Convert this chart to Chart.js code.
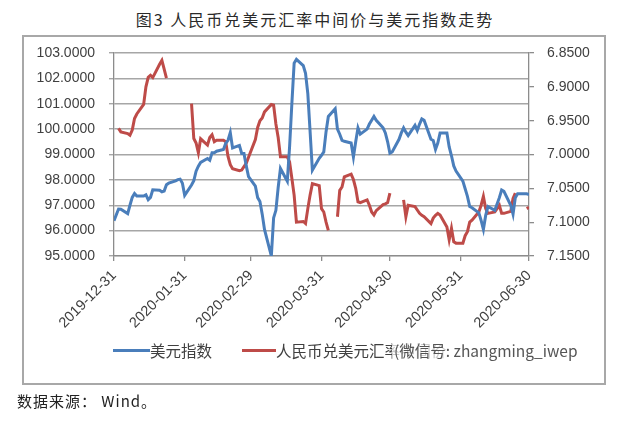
<!DOCTYPE html>
<html>
<head>
<meta charset="utf-8">
<script src="https://cdn.jsdelivr.net/npm/chart.js@4.4.1/dist/chart.umd.min.js"></script>
<style>
  html, body { margin: 0; padding: 0; background: #fff; }
  body { width: 623px; height: 426px; position: relative; overflow: hidden; }
  #title { position: absolute; left: 0; width: 630px; top: 9px; text-align: center;
    font-family: "Noto Sans CJK SC", sans-serif; font-size: 16px; line-height: 20px;
    letter-spacing: 2px; color: #2a2a2a; }
  #frame { position: absolute; left: 22px; top: 35px; width: 580px; height: 346px;
    border: 2px solid #a8a8a8; }
  #chartWrap { position: absolute; left: 0; top: 0; width: 623px; height: 426px; }
  #legend { position: absolute; top: 340px; left: 0; width: 623px; height: 20px;
    font-family: "Noto Sans CJK SC", sans-serif; font-size: 15.5px; line-height: 20px; color: #404040; }
  .item { position: absolute; top: 0; white-space: nowrap; }
  .swatch { position: absolute; top: 9px; height: 3px; }
  #wm { position: absolute; left: 392px; top: 340px; height: 20px; padding: 0 2px;
    font-family: "Noto Sans CJK SC", sans-serif; font-size: 15.5px; line-height: 20px;
    color: #555; background: rgba(255,255,255,0.72); white-space: nowrap; }
  #source { position: absolute; left: 17px; top: 391px; font-family: "Noto Sans CJK SC", sans-serif;
    font-size: 15px; line-height: 20px; letter-spacing: 1px; color: #222; }
</style>
</head>
<body>
<div id="title">图3 人民币兑美元汇率中间价与美元指数走势</div>
<div id="frame"></div>
<div id="chartWrap"><canvas id="c" width="623" height="426"></canvas></div>
<div id="legend"></div>
<div id="wm">(微信号: zhangming_iwep</div>
<div id="source">数据来源： Wind。</div>
<script>
// ---- data ----
const dates = [
"2019-12-31","2020-01-02","2020-01-03","2020-01-06","2020-01-07","2020-01-08","2020-01-09","2020-01-10",
"2020-01-13","2020-01-14","2020-01-15","2020-01-16","2020-01-17","2020-01-20","2020-01-21","2020-01-22",
"2020-01-23","2020-01-24","2020-01-27","2020-01-28","2020-01-29","2020-01-30","2020-01-31",
"2020-02-03","2020-02-04","2020-02-05","2020-02-06","2020-02-07","2020-02-10","2020-02-11","2020-02-12",
"2020-02-13","2020-02-14","2020-02-17","2020-02-18","2020-02-19","2020-02-20","2020-02-21","2020-02-24",
"2020-02-25","2020-02-26","2020-02-27","2020-02-28",
"2020-03-02","2020-03-03","2020-03-04","2020-03-05","2020-03-06","2020-03-09","2020-03-10","2020-03-11",
"2020-03-12","2020-03-13","2020-03-16","2020-03-17","2020-03-18","2020-03-19","2020-03-20","2020-03-23",
"2020-03-24","2020-03-25","2020-03-26","2020-03-27","2020-03-30","2020-03-31",
"2020-04-01","2020-04-02","2020-04-03","2020-04-06","2020-04-07","2020-04-08","2020-04-09","2020-04-10",
"2020-04-13","2020-04-14","2020-04-15","2020-04-16","2020-04-17","2020-04-20","2020-04-21","2020-04-22",
"2020-04-23","2020-04-24","2020-04-27","2020-04-28","2020-04-29","2020-04-30",
"2020-05-01","2020-05-04","2020-05-05","2020-05-06","2020-05-07","2020-05-08","2020-05-11","2020-05-12",
"2020-05-13","2020-05-14","2020-05-15","2020-05-18","2020-05-19","2020-05-20","2020-05-21","2020-05-22",
"2020-05-25","2020-05-26","2020-05-27","2020-05-28","2020-05-29",
"2020-06-01","2020-06-02","2020-06-03","2020-06-04","2020-06-05","2020-06-08","2020-06-09","2020-06-10",
"2020-06-11","2020-06-12","2020-06-15","2020-06-16","2020-06-17","2020-06-18","2020-06-19","2020-06-22",
"2020-06-23","2020-06-24","2020-06-25","2020-06-26","2020-06-29","2020-06-30"
];

const usdIndex = [
96.39,96.85,96.84,96.67,97.00,97.31,97.46,97.36,
97.36,97.41,97.22,97.31,97.61,97.59,97.53,97.56,
97.81,97.87,97.96,98.01,98.03,97.87,97.39,
97.80,97.97,98.34,98.54,98.69,98.84,98.77,99.07,
99.07,99.13,99.20,99.44,99.56,99.86,99.26,99.36,
99.04,99.04,98.55,98.13,
97.75,97.30,97.15,96.65,96.05,95.00,96.50,96.80,
97.70,98.45,97.95,99.30,101.00,102.60,102.75,102.50,
102.20,101.40,99.90,98.38,98.85,98.97,
99.10,99.90,100.50,100.80,100.00,99.80,99.56,99.52,
99.45,98.90,99.50,100.05,99.80,100.00,100.20,100.35,
100.50,100.35,100.05,99.85,99.50,99.05,
99.10,99.60,99.85,100.05,99.88,99.75,100.15,99.95,
100.20,100.40,100.35,99.60,99.55,99.20,99.45,99.85,
99.85,99.30,98.95,98.55,98.35,
97.95,97.65,97.35,96.95,96.90,96.70,96.40,96.05,
96.60,96.95,96.80,97.05,97.30,97.60,97.55,97.00,
96.65,97.30,97.45,97.45,97.45,97.42
];

const cnyMid = [
null,6.9614,6.9666,6.9690,6.9715,6.9640,6.9468,6.9401,
6.9260,6.9000,6.8860,6.8829,6.8863,6.8666,6.8608,6.8740,
6.8870,null,null,null,null,null,null,
6.9249,6.9764,6.9830,6.9975,6.9768,6.9860,6.9750,6.9710,
6.9810,6.9790,6.9790,6.9810,7.0030,7.0150,7.0210,7.0240,
7.0230,7.0180,7.0130,7.0040,
6.9780,6.9600,6.9500,6.9460,6.9370,6.9260,6.9270,6.9550,
6.9750,7.0035,7.0035,7.0110,7.0350,7.0600,7.1000,7.0990,
7.1020,7.0800,7.0600,7.0430,7.0460,7.0800,
7.0850,7.1000,7.1120,null,7.0920,7.0530,7.0480,7.0330,
7.0290,7.0370,7.0500,7.0700,7.0710,7.0670,7.0750,7.0850,
7.0895,7.0830,7.0740,7.0730,7.0710,7.0570,
null,null,null,7.0670,7.0920,7.0750,7.0770,7.0820,
7.0870,7.0900,7.0920,7.1020,7.0940,7.0900,7.0870,7.0895,
7.1070,7.1260,7.1090,7.1290,7.1310,
7.1310,7.1200,7.1140,7.1000,7.0970,7.0850,7.0750,7.0620,
7.0800,7.0870,7.0850,7.0800,7.0750,7.0870,7.0870,7.0840,
7.0650,7.0570,null,null,7.0800,7.0780
];

const xTickLabels = ["2019-12-31","2020-01-31","2020-02-29","2020-03-31","2020-04-30","2020-05-31","2020-06-30"];
const leftTicks = [95,96,97,98,99,100,101,102,103];
const rightTicks = [6.85,6.90,6.95,7.00,7.05,7.10,7.15];
const seriesNames = ["美元指数","人民币兑美元汇率中间价"];
const seriesColors = ["#4a7ebb","#be4b48"];

// ---- helpers ----
const DAY = 86400000;
const origin = Date.parse(xTickLabels[0]);
const dayOf = s => Math.round((Date.parse(s) - origin) / DAY);
const xMax = dayOf(xTickLabels[xTickLabels.length - 1]);
const usdPts = dates.map((d, i) => ({ x: dayOf(d), y: usdIndex[i] }));
const cnyPts = dates.map((d, i) => ({ x: dayOf(d), y: cnyMid[i] }));
const tickDayToLabel = {};
xTickLabels.forEach(s => { tickDayToLabel[dayOf(s)] = s; });

// ---- HTML legend ----
const legend = document.getElementById('legend');
const legendPos = [{ line: 113, w: 37, text: 150 }, { line: 242, w: 34, text: 276 }];
seriesNames.forEach((n, i) => {
  const sw = document.createElement('div');
  sw.className = 'swatch';
  sw.style.left = legendPos[i].line + 'px';
  sw.style.width = legendPos[i].w + 'px';
  sw.style.background = seriesColors[i];
  legend.appendChild(sw);
  const t = document.createElement('div');
  t.className = 'item';
  t.style.left = legendPos[i].text + 'px';
  t.textContent = n;
  legend.appendChild(t);
});

const tickFont = { family: "'Liberation Sans', Arial, sans-serif", size: 14 };
const tickColor = '#404040';

new Chart(document.getElementById('c'), {
  type: 'line',
  data: {
    datasets: [
      { label: seriesNames[0], data: usdPts, yAxisID: 'yL', borderColor: seriesColors[0],
        backgroundColor: seriesColors[0], borderWidth: 3, pointRadius: 0, tension: 0, spanGaps: true },
      { label: seriesNames[1], data: cnyPts, yAxisID: 'yR', borderColor: seriesColors[1],
        backgroundColor: seriesColors[1], borderWidth: 3, pointRadius: 0, tension: 0, spanGaps: false }
    ]
  },
  options: {
    responsive: false,
    animation: false,
    events: [],
    layout: { padding: { top: 53, left: 0, right: 0, bottom: 0 } },
    plugins: { legend: { display: false }, tooltip: { enabled: false }, title: { display: false } },
    scales: {
      x: {
        type: 'linear', min: 0, max: xMax,
        afterBuildTicks: s => { s.ticks = xTickLabels.map(l => ({ value: dayOf(l) })); },
        afterFit: s => { s.height = 170; },
        ticks: { autoSkip: false, minRotation: 45, maxRotation: 45, padding: 6,
          font: { family: "'Liberation Sans', Arial, sans-serif", size: 14.5 }, color: tickColor,
          callback: v => tickDayToLabel[v] || '' },
        grid: { drawOnChartArea: false, drawTicks: true, tickLength: 5, color: '#8c8c8c', lineWidth: 1.3 },
        border: { display: true, color: '#8c8c8c', width: 1.3 }
      },
      yL: {
        type: 'linear', position: 'left', min: 95, max: 103,
        afterBuildTicks: s => { s.ticks = leftTicks.map(v => ({ value: v })); },
        afterFit: s => { s.width = 114; },
        ticks: { padding: 14, font: tickFont, color: tickColor, callback: v => Number(v).toFixed(4) },
        grid: { color: '#a6a6a6', lineWidth: 1.4, drawTicks: true, tickLength: 5 },
        border: { display: true, color: '#8c8c8c', width: 1.3 }
      },
      yR: {
        type: 'linear', position: 'right', min: 6.85, max: 7.15, reverse: true,
        afterBuildTicks: s => { s.ticks = rightTicks.map(v => ({ value: v })); },
        afterFit: s => { s.width = 94; },
        ticks: { padding: 13, font: tickFont, color: tickColor, callback: v => Number(v).toFixed(4) },
        grid: { drawOnChartArea: false, drawTicks: true, tickLength: 5, color: '#8c8c8c', lineWidth: 1.3 },
        border: { display: true, color: '#8c8c8c', width: 1.3 }
      }
    }
  }
});
</script>
</body>
</html>
